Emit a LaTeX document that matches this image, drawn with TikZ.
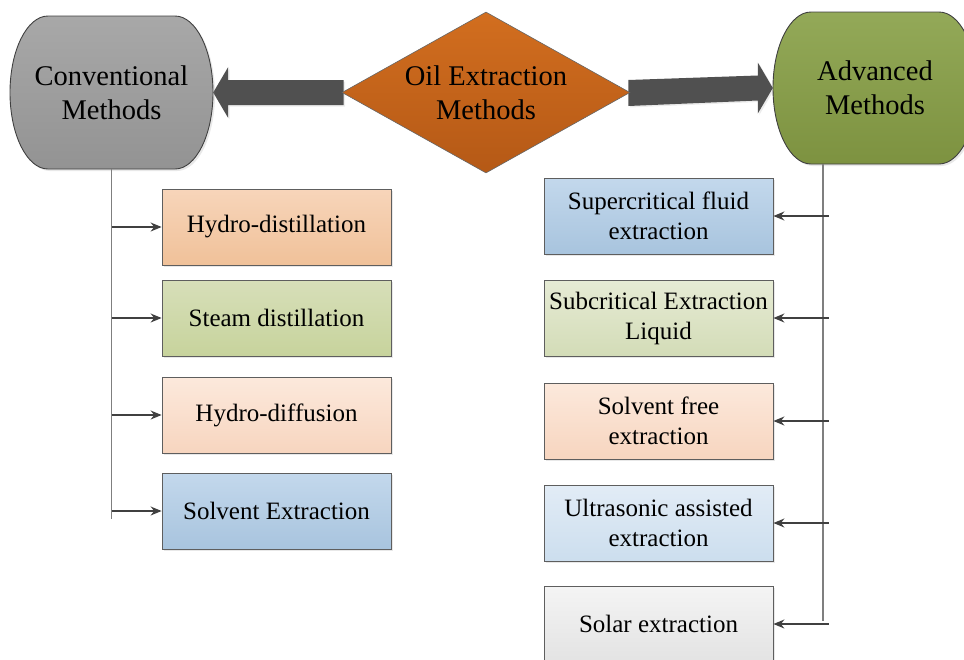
\documentclass[tikz,border=0pt]{standalone}
\usepackage{fontspec}
\setmainfont{Liberation Serif}
\usetikzlibrary{shapes.geometric,shadows,calc,arrows.meta,backgrounds}
\definecolor{convtop}{HTML}{A8A8A8}
\definecolor{convbot}{HTML}{939393}
\definecolor{advtop}{HTML}{93A958}
\definecolor{advbot}{HTML}{7D9240}
\definecolor{oiltop}{HTML}{D26E1F}
\definecolor{oilbot}{HTML}{B55916}
\definecolor{arrowdark}{HTML}{505050}
\definecolor{boxborder}{HTML}{5E5E5E}
\definecolor{linegray}{HTML}{7F7F7F}
\definecolor{tipgray}{HTML}{404040}
\definecolor{peachtop}{HTML}{F7D5BA}
\definecolor{peachbot}{HTML}{F0C199}
\definecolor{greentop}{HTML}{D7DFB9}
\definecolor{greenbot}{HTML}{C7D39C}
\definecolor{ltpeachtop}{HTML}{FCE9DC}
\definecolor{ltpeachbot}{HTML}{F7D5BF}
\definecolor{bluetop}{HTML}{C3D8EC}
\definecolor{bluebot}{HTML}{A8C4DE}
\definecolor{ltgreentop}{HTML}{E6EBD5}
\definecolor{ltgreenbot}{HTML}{D3DCB7}
\definecolor{ltbluetop}{HTML}{E2ECF6}
\definecolor{ltbluebot}{HTML}{CCDEEE}
\definecolor{graytop}{HTML}{F4F4F4}
\definecolor{graybot}{HTML}{E3E3E3}
\begin{document}
\begin{tikzpicture}[x=1pt,y=-1pt,
  bigfont/.style={font=\fontsize{28.5}{34}\selectfont},
  methodbox/.style={draw=boxborder, line width=0.8pt, minimum width=229pt, minimum height=76pt,
    inner sep=0pt, align=center, font=\fontsize{25}{30}\selectfont,
    drop shadow={shadow xshift=2pt, shadow yshift=-2pt, opacity=0.18}},
  trunk/.style={draw=linegray, line width=1.5pt},
  branch/.style={draw=tipgray, line width=1.4pt, -{Stealth[length=11pt,width=9pt]}},
  terminal/.style={draw=black!75, line width=0.9pt,
    drop shadow={shadow xshift=2pt, shadow yshift=-2pt, opacity=0.18}},
  bigarrow/.style={fill=arrowdark, draw=none,
    drop shadow={shadow xshift=1.5pt, shadow yshift=-1.5pt, opacity=0.15}}]
\useasboundingbox (0,0) rectangle (964,659);
\clip (0,0) rectangle (964,659);

% terminal shapes
\path[terminal, top color=convtop, bottom color=convbot]
  (48,16) -- (175,16) arc[start angle=-90,end angle=90,x radius=38,y radius=76.5]
  -- (48,169) arc[start angle=90,end angle=270,x radius=38,y radius=76.5] -- cycle;
\path[terminal, top color=advtop, bottom color=advbot]
  (811,12) -- (939,12) arc[start angle=-90,end angle=90,x radius=38,y radius=76]
  -- (811,164) arc[start angle=90,end angle=270,x radius=38,y radius=76] -- cycle;

\node[bigfont, minimum width=203pt, minimum height=153pt, inner sep=0pt, align=center]
  (conv) at (111.5,92.5) {Conventional\\Methods};
\node[bigfont, minimum width=204pt, minimum height=152pt, inner sep=0pt, align=center]
  (adv) at (875,88) {Advanced\\Methods};

% diamond
\node[diamond, bigfont, align=center, inner sep=0pt, shape aspect=1.79,
  minimum width=288pt, minimum height=161pt, draw=black!60, line width=0.6pt,
  top color=oiltop, bottom color=oilbot] (oil) at (486,92.5) {Oil Extraction\\Methods};

% big arrows
\begin{pgfonlayer}{background}
\path[bigarrow] (conv.east) -- ($(conv.east)+(15,-25.5)$) -- ($(conv.east)+(15,-12.5)$)
  -- ($(oil.west)+(2,-12.5)$) -- ($(oil.west)+(2,12.5)$) -- ($(conv.east)+(15,12.5)$)
  -- ($(conv.east)+(15,25.5)$) -- cycle;
\path[bigarrow] ($(oil.east)+(-2,-12.5)$) -- ($(adv.west)+(-15,-12.5)$) -- ($(adv.west)+(-15,-25.5)$)
  -- (adv.west) -- ($(adv.west)+(-15,25.5)$) -- ($(adv.west)+(-15,12.5)$)
  -- ($(oil.east)+(-2,13.5)$) -- cycle;
\end{pgfonlayer}

% left boxes
\node[methodbox, top color=peachtop, bottom color=peachbot] (l1) at (276.5,227) {Hydro-distillation};
\node[methodbox, top color=greentop, bottom color=greenbot] (l2) at (276.5,318) {Steam distillation};
\node[methodbox, top color=ltpeachtop, bottom color=ltpeachbot] (l3) at (276.5,415) {Hydro-diffusion};
\node[methodbox, top color=bluetop, bottom color=bluebot] (l4) at (276.5,511) {Solvent Extraction};

% right boxes
\node[methodbox, top color=bluetop, bottom color=bluebot] (r1) at (658.5,216) {Supercritical fluid\\extraction};
\node[methodbox, top color=ltgreentop, bottom color=ltgreenbot] (r2) at (658.5,318) {Subcritical Extraction\\Liquid};
\node[methodbox, top color=ltpeachtop, bottom color=ltpeachbot] (r3) at (658.5,421) {Solvent free\\extraction};
\node[methodbox, top color=ltbluetop, bottom color=ltbluebot] (r4) at (658.5,523) {Ultrasonic assisted\\extraction};
\node[methodbox, top color=graytop, bottom color=graybot] (r5) at (658.5,624) {Solar extraction};

% left tree
\coordinate (lbot) at ($(conv.south)+(0,350)$);
\draw[trunk] (conv.south) -- (lbot);
\foreach \b in {l1,l2,l3,l4}
  \draw[branch] (conv.south |- \b.west) -- (\b.west);

% right tree
\coordinate (rtop) at ($(adv.south west)+(50,0)$);
\coordinate (rbot) at ($(rtop)+(0,457)$);
\draw[trunk] (rtop) -- (rbot);
\foreach \b in {r1,r2,r3,r4,r5}
  \draw[branch] ($(rtop |- \b.east)+(6,0)$) -- (\b.east);
\end{tikzpicture}
\end{document}
